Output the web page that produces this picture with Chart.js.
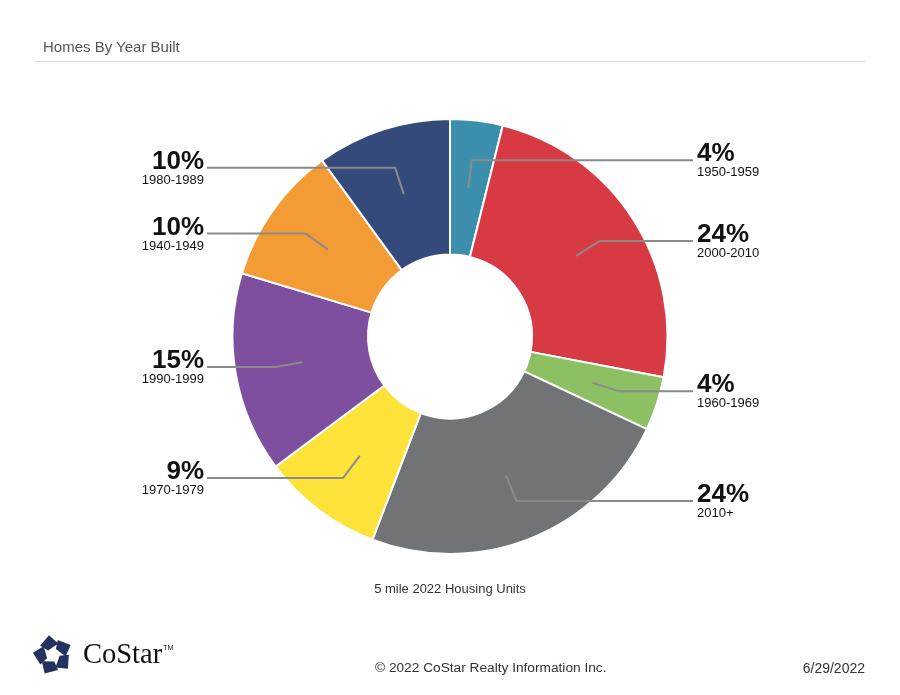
<!DOCTYPE html>
<html>
<head>
<meta charset="utf-8">
<script src="https://cdn.jsdelivr.net/npm/chart.js@4/dist/chart.umd.min.js"></script>
<style>
  html, body { margin: 0; padding: 0; background: #fff; }
  #page { position: relative; width: 900px; height: 695px; overflow: hidden; font-family: "Liberation Sans", Arial, sans-serif; }
  #myChart { position: absolute; left: 0; top: 0; }
  .title { position: absolute; left: 43px; top: 38px; font-size: 15px; color: #555; }
  .rule { position: absolute; left: 35px; top: 61px; width: 830px; height: 1px; background: #dcdcdc; }
  .sub { position: absolute; left: 0; width: 900px; top: 581px; text-align: center; font-size: 13px; color: #333; }
  .copy { position: absolute; left: 375px; top: 660px; font-size: 13.7px; color: #333; }
  .date { position: absolute; right: 35px; top: 660px; font-size: 14px; color: #333; }
  .logo { position: absolute; left: 31px; top: 633px; }
  .brand { position: absolute; left: 83px; top: 638px; font-family: "Liberation Serif", "DejaVu Serif", serif; font-size: 28.5px; color: #111; }
  .tm { font-family: "Liberation Sans", sans-serif; font-size: 7px; vertical-align: top; position: relative; top: 6px; margin-left: 1px; }
</style>
</head>
<body>
<div id="page">
  <canvas id="myChart" width="900" height="695"></canvas>
  <div class="title">Homes By Year Built</div>
  <div class="rule"></div>
  <div class="sub">5 mile 2022 Housing Units</div>
  <svg class="logo" width="44" height="44" viewBox="-22 -22 44 44">
    <g fill="#23325e" id="pieces" transform="rotate(-20)"></g>
  </svg>
  <div class="brand">CoStar<span class="tm">TM</span></div>
  <div class="copy">© 2022 CoStar Realty Information Inc.</div>
  <div class="date">6/29/2022</div>
</div>
<script>
// logo pieces, five around a centre
var g = document.getElementById("pieces");
for (var i = 0; i < 5; i++) {
  var p = document.createElementNS("http://www.w3.org/2000/svg", "polygon");
  p.setAttribute("points", "-9,-13 3,-20 9,-9 -3,-6");
  p.setAttribute("transform", "rotate(" + (i * 72) + ")");
  g.appendChild(p);
}

const yearLabels = ["1950-1959","2000-2010","1960-1969","2010+","1970-1979","1990-1999","1940-1949","1980-1989"];
const shareValues = [3.9, 24.1, 4.0, 23.8, 9.0, 14.9, 10.3, 10.0];
const sliceColors = ["#3b8fad","#d83a44","#8cc063","#717477","#fde23a","#7e4f9e","#f39c36","#344a7a"];

// leader lines + labels
const calloutPlugin = {
  id: "callouts",
  afterDatasetsDraw(chart) {
    const ctx = chart.ctx;
    const meta = chart.getDatasetMeta(0);
    const data = chart.data.datasets[0].data;
    const total = data.reduce((a, b) => a + b, 0);
    meta.data.forEach(function(arc, i) {
      const a = (arc.startAngle + arc.endAngle) / 2;
      const rIn = (arc.innerRadius + arc.outerRadius) / 2;
      const rOut = arc.outerRadius - 40;
      const x1 = arc.x + Math.cos(a) * rIn, y1 = arc.y + Math.sin(a) * rIn;
      const x2 = arc.x + Math.cos(a) * rOut, y2 = arc.y + Math.sin(a) * rOut;
      const right = Math.cos(a) >= 0;
      const x3 = right ? 693 : 207;
      ctx.save();
      ctx.strokeStyle = "#8b8b8b";
      ctx.lineWidth = 2;
      ctx.beginPath();
      ctx.moveTo(x1, y1);
      ctx.lineTo(x2, y2);
      ctx.lineTo(x3, y2);
      ctx.stroke();
      const pct = Math.round(data[i] / total * 100) + "%";
      ctx.fillStyle = "#111";
      ctx.textAlign = right ? "left" : "right";
      ctx.textBaseline = "alphabetic";
      const tx = right ? 697 : 204;
      ctx.font = "bold 26px 'Liberation Sans', Arial, sans-serif";
      ctx.fillText(pct, tx, y2 + 1);
      ctx.font = "13px 'Liberation Sans', Arial, sans-serif";
      ctx.fillText(chart.data.labels[i], tx, y2 + 16);
      ctx.restore();
    });
  }
};

new Chart("myChart", {
  type: "doughnut",
  data: {
    labels: yearLabels,
    datasets: [{
      data: shareValues,
      backgroundColor: sliceColors,
      borderColor: "#ffffff",
      borderWidth: 2
    }]
  },
  options: {
    responsive: false,
    animation: false,
    events: [],
    radius: 217.5,
    cutout: "37.7%",
    layout: { padding: { left: 225, right: 225, top: 100, bottom: 122 } },
    plugins: {
      legend: { display: false },
      tooltip: { enabled: false }
    }
  },
  plugins: [calloutPlugin]
});
</script>
</body>
</html>
